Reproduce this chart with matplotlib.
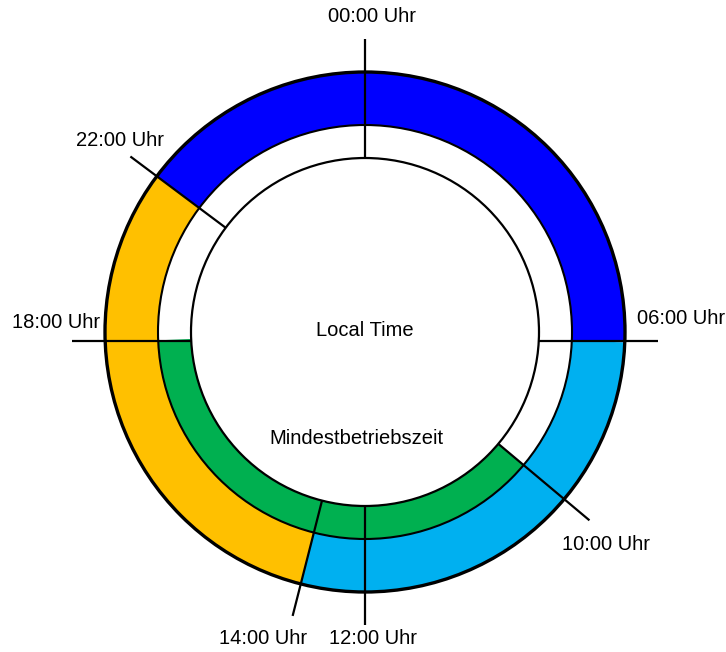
import matplotlib
matplotlib.use("Agg")
import matplotlib.pyplot as plt
from matplotlib.patches import Wedge, Circle
import numpy as np

plt.rcParams['font.family'] = ['Liberation Sans', 'DejaVu Sans']

# Stunden und ihre gezeichnete Lage (Grad, mathematisch, nicht maßstäblich)
hours = [0, 6, 10, 12, 14, 18, 22]
hour_labels = ["00:00 Uhr", "06:00 Uhr", "10:00 Uhr", "12:00 Uhr",
               "14:00 Uhr", "18:00 Uhr", "22:00 Uhr"]
hour_angles = [90, -2.3, -40, -90, -104.3, 182.3, 143.2]

# äußerer Ring: von Stunde -> bis Stunde (im Uhrzeigersinn)
outer_from = [22, 6, 14]
outer_to = [6, 14, 22]
outer_colors = ["#0000FF", "#00B0F0", "#FFC000"]

# innerer Ring: Mindestbetriebszeit
inner_from = [10]
inner_to = [18]
inner_colors = ["#00B050"]

center_text = ["Local Time", "Mindestbetriebszeit"]

# Layout (Pixel, y von oben)
W, H = 726, 652
cx, cy = 365, 332
r_core, r_mid, r_out = 174, 207, 260
tick_in, tick_out = r_out - r_core, 33   # Länge nach innen / außen ab Außenkreis
tick_dir = {6: 0, 18: 180}               # waagrechte Striche
label_xy = {0: (372, 16), 6: (681, 318), 10: (606, 545), 12: (373, 639),
            14: (263, 639), 18: (56, 322), 22: (120, 140)}
text_xy = [(365, 330), (356, 439)]

ang = dict(zip(hours, hour_angles))

fig = plt.figure(figsize=(W / 100, H / 100), dpi=100, facecolor='white')
ax = fig.add_axes([0, 0, 1, 1])
ax.set_xlim(0, W)
ax.set_ylim(0, H)
ax.set_aspect('equal')
ax.axis('off')

c = (cx, H - cy)

def ring(h_from, h_to, r_in, r_o, color):
    # im Uhrzeigersinn von h_from nach h_to = gegen Uhrzeigersinn von h_to nach h_from
    t1 = ang[h_to]
    t2 = ang[h_from]
    while t2 <= t1:
        t2 += 360
    ax.add_patch(Wedge(c, r_o, t1, t2, width=r_o - r_in, facecolor=color,
                       edgecolor='none', zorder=2))

for f, t, col in zip(outer_from, outer_to, outer_colors):
    ring(f, t, r_mid, r_out, col)
for f, t, col in zip(inner_from, inner_to, inner_colors):
    ring(f, t, r_core, r_mid, col)

# Kreise: Trennlinien der Ringe
ax.add_patch(Circle(c, r_out, fill=False, edgecolor='black', lw=2.4, zorder=3))
ax.add_patch(Circle(c, r_mid, fill=False, edgecolor='black', lw=1.5, zorder=3))
ax.add_patch(Circle(c, r_core, facecolor='white', edgecolor='black', lw=1.6, zorder=3))

# Zeitstriche (zugleich Segmentgrenzen)
for h, lab in zip(hours, hour_labels):
    a = np.deg2rad(ang[h])
    d = np.deg2rad(tick_dir.get(h, ang[h]))
    px, py = c[0] + r_out * np.cos(a), c[1] + r_out * np.sin(a)
    if h in tick_dir:
        py = c[1] + r_out * np.sin(np.deg2rad(-2))
    ax.plot([px - tick_in * np.cos(d), px + tick_out * np.cos(d)],
            [py - tick_in * np.sin(d), py + tick_out * np.sin(d)],
            color='black', lw=1.6, zorder=4, solid_capstyle='butt')
    x, y = label_xy[h]
    ax.text(x, H - y, lab, ha='center', va='center', fontsize=14.5, zorder=5)

for s, (x, y) in zip(center_text, text_xy):
    ax.text(x, H - y, s, ha='center', va='center', fontsize=14.5, zorder=5)

fig.savefig("out.png", dpi=100, facecolor='white')
